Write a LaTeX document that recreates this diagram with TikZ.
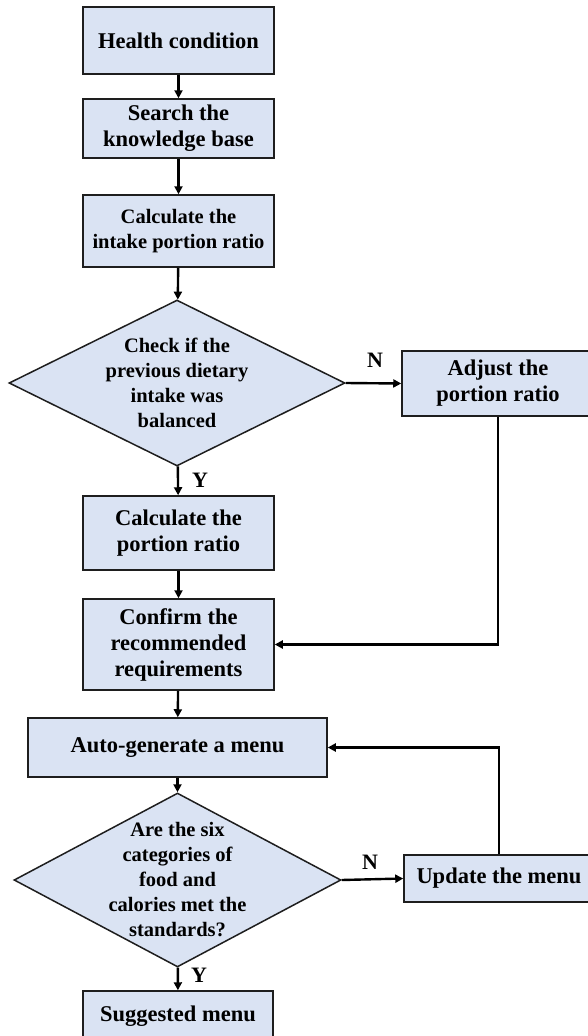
\documentclass[tikz,border=0pt]{standalone}
\usepackage{fontspec}
\setmainfont{Liberation Serif}
\usetikzlibrary{shapes.geometric}
\usetikzlibrary{arrows.meta}

\definecolor{boxblue}{RGB}{218,227,243}
\definecolor{edge}{RGB}{30,30,30}

\begin{document}
\begin{tikzpicture}[x=1pt, y=-1pt,
    stepbox/.style={draw=edge, line width=1.5pt, fill=boxblue, align=center,
        inner sep=0pt, font=\bfseries\fontsize{22.5}{26}\selectfont},
    smalltext/.style={font=\bfseries\fontsize{20.5}{25}\selectfont},
    decision/.style={diamond, draw=edge, line width=1.5pt, fill=boxblue,
        align=center, inner sep=-70pt, smalltext},
    flow/.style={line width=2.4pt, draw=black, -{Triangle[length=8pt,width=8pt]}},
    answer/.style={font=\bfseries\fontsize{22}{24}\selectfont}]

    % Page frame
    \clip (0,0) rectangle (588,1036);
    \fill[white] (0,0) rectangle (588,1036);

    % Main column
    \node[stepbox, minimum width=191pt, minimum height=67pt] (health) at (178.5,40.5)
        {Health condition};
    \node[stepbox, minimum width=191pt, minimum height=59pt] (search) at (178.5,128.5)
        {Search the\\knowledge base};
    \node[stepbox, smalltext, minimum width=191pt, minimum height=72pt] (intake) at (178.5,231)
        {Calculate the\\intake portion ratio};
    \node[decision, minimum width=336pt, minimum height=166pt] (check) at (177,383)
        {Check if the\\previous dietary\\intake was\\balanced};
    \node[stepbox, minimum width=191pt, minimum height=74pt] (calc) at (178.5,533)
        {Calculate the\\portion ratio};
    \node[stepbox, minimum width=191pt, minimum height=91pt] (confirm) at (178.5,644.5)
        {Confirm the\\recommended\\requirements};
    \node[stepbox, minimum width=299pt, minimum height=59pt] (autogen) at (177.5,747.5)
        {Auto-generate a menu};
    \node[decision, minimum width=327pt, minimum height=174pt] (verify) at (177.5,880)
        {Are the six\\categories of\\food and\\calories met the\\standards?};
    \node[stepbox, minimum width=190pt, minimum height=50pt] (suggest) at (178,1016)
        {Suggested menu};

    % Side column
    \node[stepbox, minimum width=192pt, minimum height=65pt] (adjust) at (498,383.5)
        {Adjust the\\portion ratio};
    \node[stepbox, minimum width=190pt, minimum height=47pt] (update) at (499,878.5)
        {Update the menu};

    % Arrows down the main column
    \draw[flow] (health) -- (search);
    \draw[flow] (search) -- (intake);
    \draw[flow] (intake) -- (check);
    \draw[flow] (check) -- (calc);
    \draw[flow] (calc) -- (confirm);
    \draw[flow] (confirm) -- (autogen);
    \draw[flow] (autogen) -- (verify);
    \draw[flow] (verify) -- (suggest);

    % Branches and loops back
    \draw[flow] (check.east) -- (adjust.west);
    \draw[flow] (adjust.south) |- (confirm.east);
    \draw[flow] (verify.east) -- (update.west);
    \draw[flow] (update.north) |- (autogen.east);

    % Answers
    \node[answer] (noA) at (375,360) {N};
    \node[answer] (yesA) at (200,480) {Y};
    \node[answer] (noB) at (370,862) {N};
    \node[answer] (yesB) at (199,975) {Y};

\end{tikzpicture}
\end{document}
